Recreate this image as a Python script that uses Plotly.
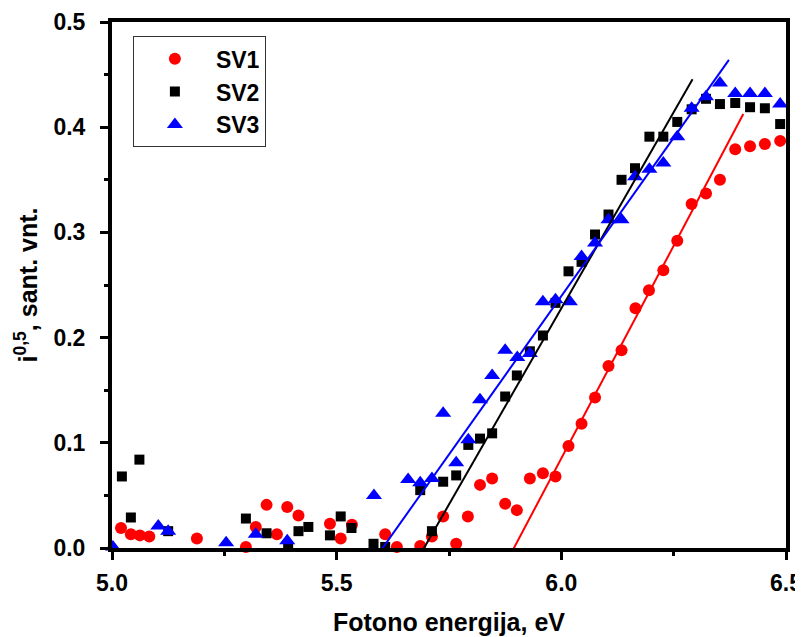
import plotly.graph_objects as go

# SV1 (red circles)
sv1_x = [5.020, 5.042, 5.062, 5.083, 5.189, 5.276, 5.298, 5.320, 5.344, 5.367,
         5.390, 5.415, 5.461, 5.485, 5.509, 5.534, 5.608, 5.634, 5.686, 5.712,
         5.737, 5.766, 5.792, 5.819, 5.846, 5.875, 5.901, 5.930, 5.959, 5.987,
         6.016, 6.045, 6.075, 6.105, 6.134, 6.165, 6.195, 6.227, 6.258, 6.290,
         6.322, 6.353, 6.387, 6.420, 6.453, 6.487]
sv1_y = [0.019, 0.013, 0.012, 0.011, 0.009, -0.004, 0.001, 0.020, 0.041, 0.013,
         0.039, 0.031, -0.003, 0.023, 0.009, 0.022, 0.013, 0.001, 0.002, 0.011,
         0.030, 0.004, 0.030, 0.060, 0.066, 0.042, 0.036, 0.066, 0.071, 0.068,
         0.097, 0.118, 0.143, 0.173, 0.188, 0.228, 0.245, 0.264, 0.292, 0.327,
         0.337, 0.350, 0.379, 0.382, 0.384, 0.387]

# SV2 (black squares)
sv2_x = [5.022, 5.042, 5.061, 5.125, 5.298, 5.344, 5.392, 5.415, 5.437, 5.485,
         5.509, 5.533, 5.582, 5.608, 5.686, 5.712, 5.737, 5.766, 5.793, 5.819,
         5.846, 5.875, 5.901, 5.930, 5.959, 5.987, 6.016, 6.045, 6.075, 6.105,
         6.134, 6.164, 6.196, 6.227, 6.258, 6.290, 6.322, 6.353, 6.387, 6.420,
         6.453, 6.487]
sv2_y = [0.068, 0.029, 0.084, 0.016, 0.028, 0.014, 0.001, 0.016, 0.020, 0.012,
         0.030, 0.019, 0.004, 0.001, 0.055, 0.016, 0.063, 0.069, 0.098, 0.104,
         0.109, 0.144, 0.164, 0.187, 0.202, 0.233, 0.263, 0.272, 0.298, 0.317,
         0.350, 0.361, 0.391, 0.391, 0.405, 0.417, 0.427, 0.422, 0.423, 0.419,
         0.418, 0.403]

# SV3 (blue triangles)
sv3_x = [5.002, 5.103, 5.125, 5.254, 5.320, 5.390, 5.583, 5.634, 5.659, 5.686,
         5.712, 5.737, 5.766, 5.793, 5.819, 5.846, 5.875, 5.902, 5.930, 5.959,
         5.987, 6.019, 6.045, 6.075, 6.105, 6.134, 6.164, 6.196, 6.227, 6.258,
         6.290, 6.322, 6.353, 6.387, 6.420, 6.453, 6.487]
sv3_y = [0.001, 0.021, 0.016, 0.005, 0.013, 0.007, 0.050, -0.004, 0.065, 0.062,
         0.066, 0.128, 0.081, 0.103, 0.141, 0.164, 0.188, 0.181, 0.185, 0.234,
         0.236, 0.234, 0.277, 0.290, 0.312, 0.312, 0.353, 0.360, 0.366, 0.391,
         0.418, 0.429, 0.442, 0.432, 0.432, 0.432, 0.422]

# Linear fit lines (endpoints)
fit1_x = [5.871, 6.405]
fit1_y = [-0.019, 0.4125]
fit2_x = [5.677, 6.292]
fit2_y = [-0.013, 0.4455]
fit3_x = [5.565, 6.373]
fit3_y = [-0.0225, 0.464]

x_ticks = [5.0, 5.5, 6.0, 6.5]
y_ticks = [0.0, 0.1, 0.2, 0.3, 0.4, 0.5]

FONT = "Liberation Sans, Arial, sans-serif"

fig = go.Figure()
fig.add_trace(go.Scatter(x=sv1_x, y=sv1_y, mode="markers", name="SV1",
                         legendgroup="1",
                         marker=dict(symbol="circle", size=12, color="#ff0000"),
                         cliponaxis=False))
fig.add_trace(go.Scatter(x=sv2_x, y=sv2_y, mode="markers", name="SV2",
                         legendgroup="2",
                         marker=dict(symbol="square", size=10, color="#000000"),
                         cliponaxis=False))
fig.add_trace(go.Scatter(x=sv3_x, y=sv3_y, mode="markers", name="SV3",
                         legendgroup="3",
                         marker=dict(symbol="triangle-up", size=14, color="#0000ff"),
                         cliponaxis=False))
fig.add_trace(go.Scatter(x=fit1_x, y=fit1_y, mode="lines", showlegend=False,
                         line=dict(color="#ff0000", width=2)))
fig.add_trace(go.Scatter(x=fit2_x, y=fit2_y, mode="lines", showlegend=False,
                         line=dict(color="#000000", width=2)))
fig.add_trace(go.Scatter(x=fit3_x, y=fit3_y, mode="lines", showlegend=False,
                         line=dict(color="#0000ff", width=2)))

axis_common = dict(
    showline=True, linecolor="black", linewidth=4, mirror=True,
    showgrid=False, zeroline=False, automargin=False,
    ticks="outside", ticklen=8, tickwidth=3, tickcolor="black",
    tickfont=dict(family=FONT, size=23, color="black", weight="bold"),
)

fig.update_xaxes(
    range=[5.0, 6.5], tickvals=x_ticks, ticktext=[f"{v:.1f}" for v in x_ticks],
    minor=dict(dtick=0.25, ticks="outside", ticklen=4, tickwidth=3, tickcolor="black"),
    ticklabelstandoff=3,
    title=dict(text="Fotono energija, eV", standoff=20,
               font=dict(family=FONT, size=25, color="black", weight="bold")),
    **axis_common)
fig.update_yaxes(
    range=[0.0, 0.5], tickvals=y_ticks, ticktext=[f"{v:.1f}" for v in y_ticks],
    minor=dict(dtick=0.05, ticks="outside", ticklen=4, tickwidth=3, tickcolor="black"),
    ticklabelstandoff=10,
    title=dict(text="i<sup>0,5</sup>, sant. vnt.", standoff=10,
               font=dict(family=FONT, size=25, color="black", weight="bold")),
    **axis_common)

fig.update_layout(
    width=795, height=629,
    margin=dict(l=104, r=17, t=14, b=89),
    paper_bgcolor="white", plot_bgcolor="white",
    legend=dict(x=0.031, y=0.973, xanchor="left", yanchor="top",
                bordercolor="#333333", borderwidth=1, bgcolor="white",
                font=dict(family=FONT, size=23, color="black", weight="bold"),
                itemwidth=72, tracegroupgap=0, traceorder="grouped"),
    showlegend=True,
)

fig.write_html("out.html")
